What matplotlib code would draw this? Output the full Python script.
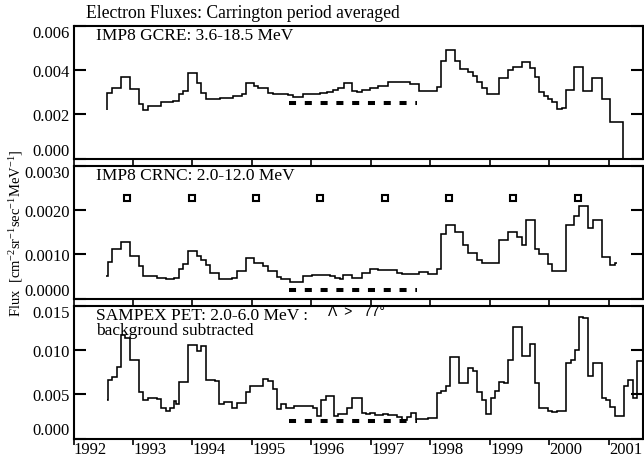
import numpy as np
import matplotlib
matplotlib.use('Agg')
import matplotlib.pyplot as plt

plt.rcParams['font.family'] = ['Liberation Serif', 'DejaVu Serif']
plt.rcParams['mathtext.fontset'] = 'custom'
plt.rcParams['mathtext.rm'] = 'Liberation Serif'
plt.rcParams['mathtext.it'] = 'Liberation Serif:italic'

# IMP8 GCRE 3.6-18.5 MeV: bin start (year) and flux
gcre_t = [1992.557, 1992.570, 1992.653, 1992.793, 1992.950, 1993.095, 1993.174, 1993.258,
          1993.398, 1993.471, 1993.678, 1993.773, 1993.846, 1993.919, 1994.070, 1994.143,
          1994.221, 1994.462, 1994.550, 1994.686, 1994.826, 1994.894, 1995.034, 1995.106,
          1995.275, 1995.347, 1995.450, 1995.611, 1995.695, 1995.863, 1996.143, 1996.260,
          1996.367, 1996.450, 1996.550, 1996.675, 1996.760, 1996.850, 1996.983, 1997.123,
          1997.291, 1997.500, 1997.655, 1997.807, 1998.104, 1998.176, 1998.260, 1998.412,
          1998.496, 1998.636, 1998.720, 1998.787, 1998.871, 1998.944, 1999.157, 1999.297,
          1999.392, 1999.532, 1999.672, 1999.756, 1999.829, 1999.907, 1999.980, 2000.048,
          2000.120, 2000.204, 2000.277, 2000.417, 2000.568, 2000.709, 2000.877, 2001.017,
          2001.241]
gcre = [0.0022, 0.00295, 0.00317, 0.00367, 0.00314, 0.00245, 0.0022, 0.00238,
        0.00235, 0.00256, 0.0026, 0.0029, 0.00305, 0.00386, 0.0034, 0.00295,
        0.0027, 0.00272, 0.00275, 0.0028, 0.0029, 0.0034, 0.00326, 0.00318,
        0.00295, 0.0029, 0.00292, 0.00285, 0.00278, 0.0029, 0.00294, 0.00302,
        0.00311, 0.00317, 0.00339, 0.00306, 0.00302, 0.00311, 0.00317, 0.00326,
        0.00347, 0.00343, 0.00338, 0.00306, 0.00321, 0.00439, 0.00488, 0.00442,
        0.00405, 0.00389, 0.00371, 0.00347, 0.00317, 0.00291, 0.00362, 0.00397,
        0.00412, 0.00435, 0.00408, 0.00367, 0.00298, 0.0028, 0.00268, 0.00253,
        0.00223, 0.0023, 0.00311, 0.00412, 0.00306, 0.00362, 0.00268, 0.00165,
        0.0]
gcre_end = 2001.246

# IMP8 CRNC 2.0-12.0 MeV
crnc_t = [1992.546, 1992.574, 1992.653, 1992.793, 1992.950, 1993.095, 1993.174, 1993.398,
          1993.549, 1993.622, 1993.695, 1993.773, 1993.846, 1993.919, 1994.070, 1994.143,
          1994.221, 1994.294, 1994.445, 1994.658, 1994.742, 1994.894, 1995.034, 1995.190,
          1995.275, 1995.415, 1995.487, 1995.639, 1995.863, 1996.003, 1996.143, 1996.311,
          1996.395, 1996.479, 1996.535, 1996.686, 1996.843, 1996.983, 1997.123, 1997.291,
          1997.431, 1997.515, 1997.655, 1997.807, 1997.953, 1998.104, 1998.176, 1998.260,
          1998.412, 1998.552, 1998.636, 1998.776, 1998.860, 1999.157, 1999.308, 1999.448,
          1999.532, 1999.605, 1999.756, 1999.829, 1999.980, 2000.048, 2000.120, 2000.277,
          2000.417, 2000.501, 2000.652, 2000.725, 2000.877, 2001.017, 2001.101]
crnc = [0.00051, 0.00083, 0.00111, 0.00128, 0.00096, 0.00073, 0.00051, 0.00047,
        0.00045, 0.00043, 0.00047, 0.00066, 0.00077, 0.00108, 0.00096, 0.00086,
        0.00076, 0.00058, 0.00043, 0.00047, 0.00061, 0.00091, 0.00081, 0.00073,
        0.00062, 0.00048, 0.00043, 0.00038, 0.00051, 0.00053, 0.00053, 0.00051,
        0.00047, 0.00045, 0.00053, 0.00047, 0.00058, 0.00066, 0.00064, 0.00064,
        0.00058, 0.00055, 0.00056, 0.0006, 0.00056, 0.00066, 0.00145, 0.00166,
        0.00149, 0.00121, 0.00102, 0.00086, 0.00081, 0.00132, 0.00149, 0.00138,
        0.00121, 0.00177, 0.00111, 0.001, 0.00077, 0.00061, 0.00062, 0.00166,
        0.00187, 0.00208, 0.00159, 0.00176, 0.00094, 0.00076, 0.00079]
crnc_end = 2001.129

# SAMPEX PET 2.0-6.0 MeV, background subtracted
pet_t = [1992.557, 1992.574, 1992.653, 1992.725, 1992.793, 1992.866, 1992.950, 1993.095,
         1993.174, 1993.258, 1993.398, 1993.471, 1993.549, 1993.622, 1993.695, 1993.730,
         1993.773, 1993.919, 1994.070, 1994.143, 1994.221, 1994.378, 1994.445, 1994.529,
         1994.658, 1994.742, 1994.894, 1994.966, 1995.190, 1995.275, 1995.347, 1995.415,
         1995.487, 1995.566, 1995.711, 1995.863, 1996.031, 1996.087, 1996.160, 1996.238,
         1996.384, 1996.451, 1996.602, 1996.686, 1996.843, 1996.910, 1996.983, 1997.067,
         1997.207, 1997.291, 1997.431, 1997.515, 1997.599, 1997.672, 1997.751, 1997.824,
         1997.964, 1998.104, 1998.176, 1998.260, 1998.328, 1998.485, 1998.636, 1998.709,
         1998.776, 1998.860, 1998.933, 1999.011, 1999.084, 1999.157, 1999.235, 1999.308,
         1999.381, 1999.532, 1999.672, 1999.756, 1999.829, 1999.907, 1999.980, 2000.048,
         2000.120, 2000.277, 2000.356, 2000.429, 2000.501, 2000.568, 2000.641, 2000.725,
         2000.877, 2000.950, 2001.017, 2001.101, 2001.252, 2001.325, 2001.398, 2001.477,
         2001.566]
pet = [0.00432, 0.00659, 0.0069, 0.00803, 0.01163, 0.01136, 0.0089, 0.00519,
       0.00432, 0.00455, 0.00445, 0.00341, 0.00311, 0.00348, 0.00424, 0.00394,
       0.0064, 0.01049, 0.00985, 0.01042, 0.00659, 0.00644, 0.00394, 0.00413,
       0.00341, 0.00405, 0.00519, 0.00595, 0.0067, 0.00644, 0.00557, 0.0033,
       0.00386, 0.00348, 0.00367, 0.00367, 0.00348, 0.00254, 0.00432, 0.00481,
       0.00254, 0.00273, 0.00348, 0.00462, 0.00292, 0.0028, 0.00292, 0.00265,
       0.0028, 0.00265, 0.00242, 0.00205, 0.00242, 0.00292, 0.00216, 0.00222,
       0.00235, 0.00508, 0.00538, 0.00595, 0.00917, 0.00621, 0.00795, 0.00758,
       0.00519, 0.00432, 0.0028, 0.00455, 0.00538, 0.00633, 0.00621, 0.0089,
       0.01258, 0.00936, 0.01061, 0.00621, 0.00348, 0.0034, 0.00315, 0.00303,
       0.00308, 0.00849, 0.0089, 0.00993, 0.01371, 0.0136, 0.00708, 0.00849,
       0.00462, 0.00432, 0.00356, 0.00254, 0.00595, 0.00659, 0.00462, 0.00871,
       0.005]
pet_end = 2001.6

# quiet period marked with the thick dashed bar
quiet_span = [1995.62, 1997.777]
quiet_level = [0.0025, 0.00019, 0.00197]

# open squares in the CRNC panel
square_t = [1992.894, 1993.987, 1995.062, 1996.143, 1997.235, 1998.316, 1999.392, 2000.474]
square_y = 0.00227

years = list(range(1992, 2002))
panel_labels = ['IMP8 GCRE: 3.6-18.5 MeV', 'IMP8 CRNC: 2.0-12.0 MeV',
                'SAMPEX PET: 2.0-6.0 MeV :\nbackground subtracted']
yticks = [[0.0, 0.002, 0.004, 0.006], [0.0, 0.001, 0.002, 0.003], [0.0, 0.005, 0.010, 0.015]]
yfmt = ['{:.3f}', '{:.4f}', '{:.3f}']

fig = plt.figure(figsize=(6.44, 4.64), dpi=100)
W, H = 644.0, 464.0
left, right = 73.5, 643.5
tops = [26.5, 166.5, 306.5]
ph = 133.0

series = [(gcre_t, gcre, gcre_end), (crnc_t, crnc, crnc_end), (pet_t, pet, pet_end)]
axes = []
for i in range(3):
    ax = fig.add_axes([left / W, 1 - (tops[i] + ph) / H, (right - left) / W, ph / H])
    axes.append(ax)
    t, v, end = series[i]
    ax.stairs(v, np.append(t, end), baseline=None, color='black', lw=1.15)
    ax.plot(quiet_span, [quiet_level[i]] * 2, color='black', lw=2.9,
            dashes=(1.75, 2.17), solid_capstyle='butt', dash_capstyle='butt')
    ax.set_xlim(1992, 2001.58)
    ax.set_ylim(yticks[i][0], yticks[i][-1])
    ax.set_yticks(yticks[i])
    ax.set_yticklabels([yfmt[i].format(y) for y in yticks[i]])
    ax.set_xticks(years)
    for s in ax.spines.values():
        s.set_linewidth(1.5)
    ax.tick_params(axis='y', direction='in', length=8.5, width=1.5, pad=2.5,
                   labelsize=12, right=True)
    ax.tick_params(axis='x', direction='out', length=4, width=1.2, labelsize=12, pad=-2)
    ticks = ax.yaxis.get_major_ticks()
    ticks[0].label1.set_va('bottom')
    ticks[-1].label1.set_va('top')
    ax.text(0.039, 0.985, panel_labels[i], transform=ax.transAxes,
            fontsize=12.5, va='top', ha='left', linespacing=0.88)
    if i < 2:
        ax.set_xticklabels([])
    else:
        ax.set_xticklabels([str(y) for y in years])
        for lab in ax.get_xticklabels():
            lab.set_ha('left')

axes[1].plot(square_t, [square_y] * len(square_t), 's', mfc='none', mec='black',
             ms=4.6, mew=1.5)
axes[2].text(0.447, 0.955, 'Λ  >   77°', transform=axes[2].transAxes,
             fontsize=10, va='center', ha='left', family=['Liberation Sans', 'DejaVu Sans'])

fig.text(86 / W, 1 - 14 / H, 'Electron Fluxes: Carrington period averaged',
         fontsize=12.7, va='center', ha='left')
fig.text(16 / W, 1 - 233 / H,
         r'Flux  [cm$^{-2}$sr$^{-1}$sec$^{-1}$MeV$^{-1}$]',
         rotation=90, fontsize=10.5, va='center', ha='center')

fig.savefig('out.png', dpi=100)
